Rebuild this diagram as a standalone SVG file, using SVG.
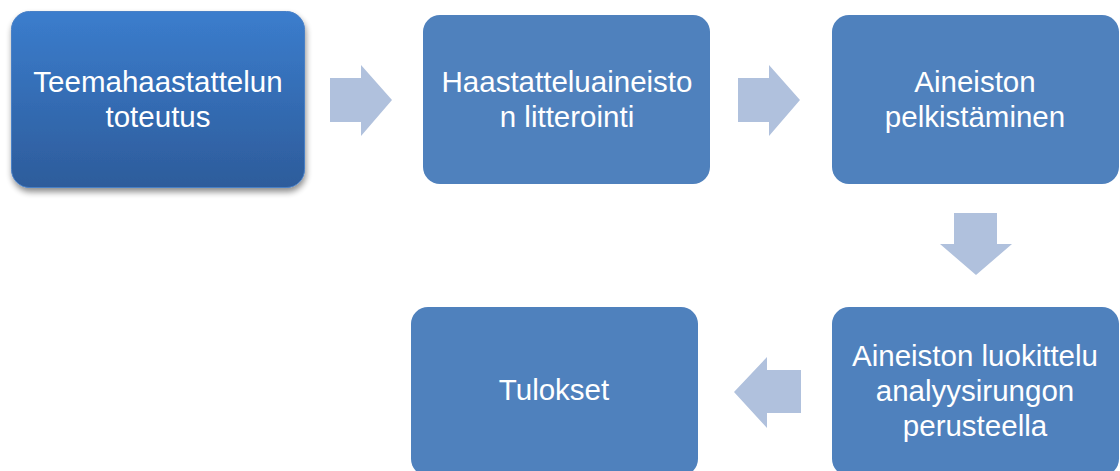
<svg xmlns="http://www.w3.org/2000/svg" width="1120" height="471" viewBox="0 0 1120 471">
  <style>
    .box { fill: #4F81BD; }
    .lbl { font-family: "Liberation Sans", Arial, sans-serif; font-size: 29.5px; fill: #FFFFFF; text-anchor: middle; }
    .arr { fill: #B0C1DD; }
  </style>
  <defs>
    <linearGradient id="g1" x1="0" y1="0" x2="0" y2="1">
      <stop offset="0" stop-color="#3B7DCD"/>
      <stop offset="1" stop-color="#2D5C9B"/>
    </linearGradient>
    <filter id="sh" x="-10%" y="-10%" width="125%" height="130%">
      <feGaussianBlur in="SourceAlpha" stdDeviation="3"/>
      <feOffset dx="1" dy="4" result="b"/>
      <feComponentTransfer><feFuncA type="linear" slope="0.45"/></feComponentTransfer>
      <feMerge><feMergeNode/><feMergeNode in="SourceGraphic"/></feMerge>
    </filter>
  </defs>
  <rect width="1120" height="471" fill="#FFFFFF"/>

  <g id="connectors">
    <path class="arr" d="M330,78 H361 V65 L392,100 L361,136 V122 H330 Z"/>
    <path class="arr" d="M738,78 H769 V65 L800,100 L769,136 V122 H738 Z"/>
    <path class="arr" d="M954,213 H997 V244 H1012 L976,275 L940,244 H954 Z"/>
    <path class="arr" d="M801,370 H767 V357 L734,392 L767,428 V413 H801 Z"/>
  </g>

  <g id="node1">
    <rect x="11.5" y="11.5" width="293" height="176" rx="18" fill="url(#g1)" stroke="#4A80C6" stroke-width="1" filter="url(#sh)"/>
    <text class="lbl" x="158" y="92">Teemahaastattelun</text>
    <text class="lbl" x="158" y="127">toteutus</text>
  </g>

  <g id="node2">
    <rect class="box" x="423" y="15" width="287" height="169" rx="17"/>
    <text class="lbl" x="567" y="92">Haastatteluaineisto</text>
    <text class="lbl" x="567" y="127">n litterointi</text>
  </g>

  <g id="node3">
    <rect class="box" x="832" y="15" width="287" height="169" rx="17"/>
    <text class="lbl" x="975" y="92">Aineiston</text>
    <text class="lbl" x="975" y="127">pelkistäminen</text>
  </g>

  <g id="node4">
    <rect class="box" x="411" y="307" width="287" height="169" rx="17"/>
    <text class="lbl" x="554" y="400">Tulokset</text>
  </g>

  <g id="node5">
    <rect class="box" x="832" y="307" width="287" height="169" rx="17"/>
    <text class="lbl" x="975" y="366">Aineiston luokittelu</text>
    <text class="lbl" x="975" y="401">analyysirungon</text>
    <text class="lbl" x="975" y="436">perusteella</text>
  </g>
</svg>
